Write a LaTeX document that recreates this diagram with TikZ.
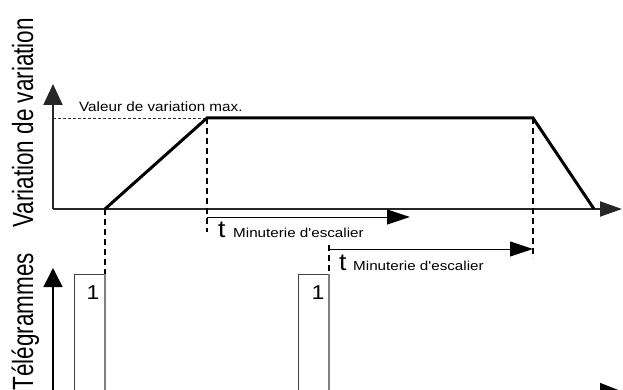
\documentclass[tikz,border=0pt]{standalone}
\usepackage{fontspec}
\setmainfont{Liberation Sans}[Ligatures=TeXOff]
\usetikzlibrary{arrows.meta}
\newcommand\stretchtext[3]{\scalebox{#1}[#2]{#3}}
\begin{document}
\begin{tikzpicture}[x=1pt,y=-1pt,
  axisline/.style={line width=2pt,draw=black!85},
  curveline/.style={line width=3pt,draw=black,line join=miter},
  guideline/.style={line width=1.5pt,draw=black,dash pattern=on 6pt off 4pt},
  maxline/.style={line width=0.8pt,draw=black!80,dash pattern=on 3pt off 2pt},
  timearrow/.style={line width=1pt,draw=black,-{Triangle[length=23pt,width=15pt]}},
  boxline/.style={line width=0.8pt,draw=black!75},
  txt/.style={inner sep=0pt,anchor=base west}
]
\path[use as bounding box] (0,0) rectangle (623,390);
\clip (0,0) rectangle (623,390);

% coordinates
\coordinate (o1) at (53,209);
\coordinate (y1) at (53,84);
\coordinate (x1) at (622,209);
\coordinate (p0) at (105,209);
\coordinate (p1) at (207,118);
\coordinate (p2) at (533,118);
\coordinate (p3) at (594,209);
\coordinate (m0) at (53,118);
\coordinate (o2) at (53,394);
\coordinate (y2) at (53,268);
\coordinate (x2s) at (53,391.5);
\coordinate (x2) at (622,391.5);
\coordinate (r1a) at (74,395);
\coordinate (r1b) at (74,274);
\coordinate (r1c) at (105,274);
\coordinate (r1d) at (105,395);
\coordinate (r2a) at (298,395);
\coordinate (r2b) at (298,274);
\coordinate (r2c) at (329,274);
\coordinate (r2d) at (329,395);
\coordinate (g1b) at (207,232);
\coordinate (g2b) at (533,258);
\coordinate (g3t) at (329,245);
\coordinate (t1s) at (207,217);
\coordinate (t1e) at (410,217);
\coordinate (t2s) at (329,249);
\coordinate (t2e) at (533,249);

% top diagram
\draw[maxline] (m0) -- (p1);
\draw[axisline,-{Triangle[length=21pt,width=19pt]}] (o1) -- (y1);
\draw[axisline,-{Triangle[length=22pt,width=15pt]}] (o1) -- (x1);
\draw[curveline] (p0) -- (p1) -- (p2) -- (p3);

% guides
\draw[guideline] (p0) -- (r1c);
\draw[guideline] (p1) -- (g1b);
\draw[guideline] (p2) -- (g2b);
\draw[guideline] (g3t) -- (r2c);

% timer arrows
\draw[timearrow] (t1s) -- (t1e);
\draw[timearrow] (t2s) -- (t2e);

% bottom diagram
\draw[line width=1.5pt,-{Triangle[length=19pt,width=19pt]}] (o2) -- (y2);
\draw[line width=1.5pt,-{Triangle[length=22pt,width=17pt]}] (x2s) -- (x2);
\draw[boxline] (r1a) -- (r1b) -- (r1c);
\draw[line width=1.5pt,draw=black!50] (r1c) -- (r1d);
\draw[boxline] (r2a) -- (r2b) -- (r2c);
\draw[line width=1.5pt,draw=black!50] (r2c) -- (r2d);

% texts
\node[rotate=90,txt] (lab1) at (33,228) {\stretchtext{1}{1.3}{\fontsize{22.5}{27}\selectfont Variation de variation}};
\node[rotate=90,inner sep=0pt,anchor=base east] (lab2) at (33,253) {\stretchtext{1}{1.3}{\fontsize{22.5}{27}\selectfont Télégrammes}};
\node[txt] (maxlab) at (79,112) {\stretchtext{1.13}{1}{\fontsize{13.5}{16}\selectfont Valeur de variation max.}};
\node[txt] (tA) at (218,237) {\stretchtext{1.1}{1}{\fontsize{24}{28}\selectfont t}};
\node[txt] (tAsub) at (233,237) {\stretchtext{1.17}{1}{\fontsize{13}{16}\selectfont Minuterie d'escalier}};
\node[txt] (tB) at (339,270) {\stretchtext{1.1}{1}{\fontsize{24}{28}\selectfont t}};
\node[txt] (tBsub) at (353,270) {\stretchtext{1.17}{1}{\fontsize{13}{16}\selectfont Minuterie d'escalier}};
\node[inner sep=0pt,anchor=base] (one1) at (93,299) {\stretchtext{1.15}{1}{\fontsize{20}{24}\selectfont 1}};
\node[inner sep=0pt,anchor=base] (one2) at (318,299) {\stretchtext{1.15}{1}{\fontsize{20}{24}\selectfont 1}};
\end{tikzpicture}
\end{document}
